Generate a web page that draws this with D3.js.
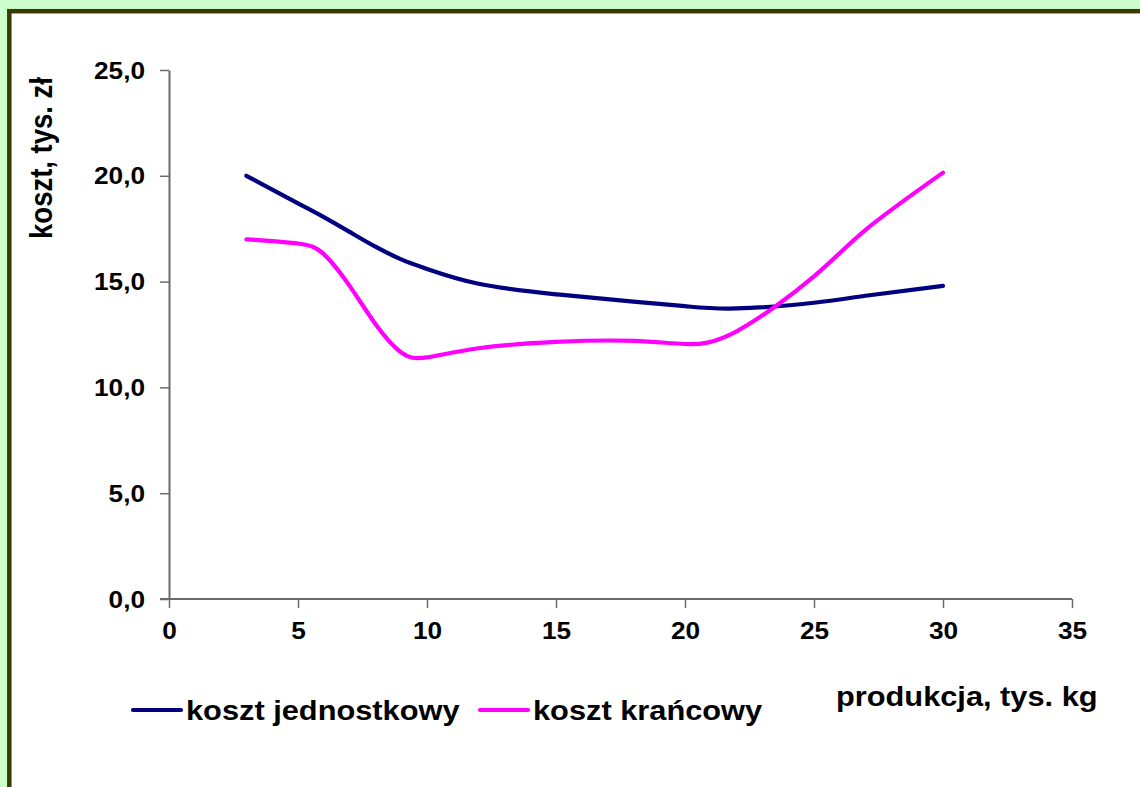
<!DOCTYPE html>
<html>
<head>
<meta charset="utf-8">
<script src="https://cdn.jsdelivr.net/npm/d3@7"></script>
<style>
  html, body { margin: 0; padding: 0; background: #ccffcc; }
  svg { display: block; }
  text { font-family: "Liberation Sans", Arial, sans-serif; font-weight: bold; fill: #000; }
</style>
</head>
<body>
<script>
// ---- data ----
const production   = [3, 5, 6, 7, 8, 9, 10, 12, 15, 18, 20, 22, 25, 27, 30];
const unitCost     = [20.0, 18.7, 18.05, 17.35, 16.65, 16.05, 15.6, 14.9, 14.4, 14.05, 13.84, 13.73, 14.0, 14.33, 14.8];
const marginalCost = [17.0, 16.8, 16.3, 14.8, 13.0, 11.65, 11.42, 11.85, 12.15, 12.2, 12.05, 12.65, 15.25, 17.45, 20.15];
const seriesNames = ["koszt jednostkowy", "koszt krańcowy"];
const xTicks = [0, 5, 10, 15, 20, 25, 30, 35];
const yTicks = [0, 5, 10, 15, 20, 25];
const yTitle = "koszt, tys. zł";
const xTitle = "produkcja, tys. kg";

const W = 1140, H = 787;
const SX = 1.14; // horizontal stretch of the text in the original
const svg = d3.select("body").append("svg").attr("width", W).attr("height", H);

// frame
svg.append("rect").attr("x", 0).attr("y", 0).attr("width", W).attr("height", H).attr("fill", "#ccffcc");
svg.append("rect").attr("x", 9.3).attr("y", 11.2).attr("width", W + 20).attr("height", H + 20)
  .attr("fill", "#ffffff").attr("stroke", "#3a3a05").attr("stroke-width", 4.5);

const x = d3.scaleLinear().domain([0, 35]).range([169, 1072]);
const y = d3.scaleLinear().domain([0, 25]).range([599, 70]);

const fmt = d => d3.format(".1f")(d).replace(".", ",");

// y axis
const gy = svg.append("g").attr("transform", `translate(${x(0)},0)`)
  .call(d3.axisLeft(y).tickValues(yTicks).tickSize(9).tickSizeOuter(0).tickFormat(fmt));
gy.select(".domain").attr("stroke", "#6b6b6b").attr("stroke-width", 2);
gy.selectAll(".tick line").attr("stroke", "#6b6b6b").attr("stroke-width", 1.5);
gy.selectAll(".tick text")
  .attr("x", 0).attr("dy", null).attr("y", 8)
  .attr("text-anchor", "end")
  .attr("transform", `translate(-24,0) scale(${SX},1)`)
  .style("font-size", "23px").style("font-family", "Liberation Sans, Arial, sans-serif").style("font-weight", "bold").attr("fill", "#000");

// x axis
const gx = svg.append("g").attr("transform", `translate(0,${y(0)})`)
  .call(d3.axisBottom(x).tickValues(xTicks).tickSize(9).tickSizeOuter(0).tickFormat(d3.format("d")));
gx.select(".domain").attr("stroke", "#6b6b6b").attr("stroke-width", 2).attr("d", `M${x(0) - 9},0H${x(35)}`);
gx.selectAll(".tick line").attr("stroke", "#6b6b6b").attr("stroke-width", 1.5);
gx.selectAll(".tick text")
  .attr("y", 40).attr("dy", null)
  .attr("text-anchor", "middle")
  .attr("transform", `scale(${SX},1)`)
  .style("font-size", "23px").style("font-family", "Liberation Sans, Arial, sans-serif").style("font-weight", "bold").attr("fill", "#000");

// lines
const line = vals => d3.line()
  .x((d, i) => x(production[i]))
  .y(d => y(d))
  .curve(d3.curveNatural)(vals);

const colors = ["#000080", "#ff00ff"];
[unitCost, marginalCost].forEach((vals, k) => {
  svg.append("path").attr("d", line(vals)).attr("fill", "none")
    .attr("stroke", colors[k]).attr("stroke-width", 4.2)
    .attr("stroke-linecap", "round").attr("stroke-linejoin", "round");
});

// y title
svg.append("text")
  .attr("transform", `translate(52,158) rotate(-90) scale(1,${SX})`)
  .attr("text-anchor", "middle").style("font-size", "27.5px").text(yTitle);

// x title
svg.append("text")
  .attr("transform", `translate(836,706) scale(${SX},1)`)
  .attr("text-anchor", "start").style("font-size", "27px").text(xTitle);

// legend
const legendX = [133, 480];
seriesNames.forEach((name, k) => {
  const g = svg.append("g").attr("transform", `translate(${legendX[k]},710)`);
  g.append("line").attr("x1", 0).attr("x2", 48).attr("y1", 0).attr("y2", 0)
    .attr("stroke", colors[k]).attr("stroke-width", 4.2).attr("stroke-linecap", "round");
  g.append("text").attr("transform", `translate(53,10) scale(${SX},1)`)
    .style("font-size", "27px").text(name);
});
</script>
</body>
</html>
